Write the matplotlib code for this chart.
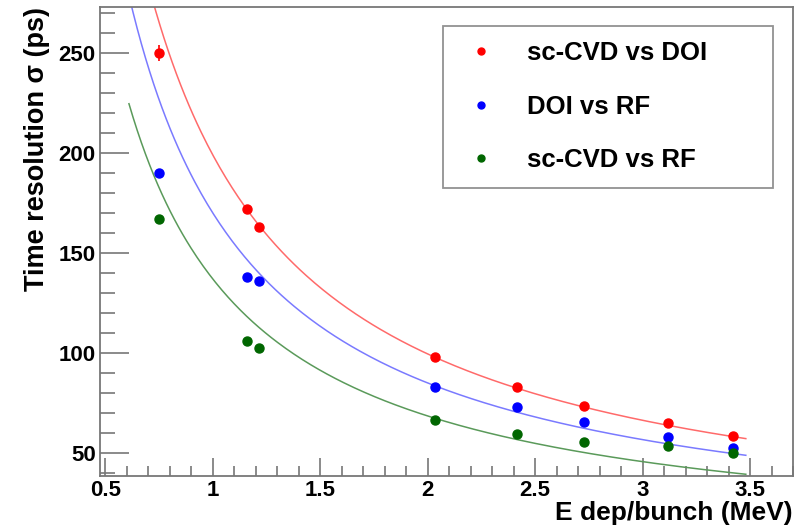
import numpy as np
import matplotlib
matplotlib.use("Agg")
import matplotlib.pyplot as plt
from matplotlib.ticker import MultipleLocator, FuncFormatter
from matplotlib.lines import Line2D

# measured points (E dep per bunch in MeV, time resolution in ps)
e_dep = [0.749, 1.157, 1.213, 2.036, 2.416, 2.726, 3.116, 3.42]
sig_cvd_doi = [250, 171.8, 163.2, 97.8, 82.8, 73.7, 65.2, 58.5]
sig_doi_rf = [189.8, 138.2, 136.2, 82.8, 72.8, 65.5, 58.2, 52.3]
sig_cvd_rf = [166.8, 105.8, 102.3, 66.5, 59.3, 55.7, 53.7, 50.0]
err_cvd_doi = [4, 1.5, 1.5, 1, 1, 1, 1, 1]
err_doi_rf = [2, 1, 1, 1, 1, 1, 1, 1]
err_cvd_rf = [1.5, 1, 1, 1, 1, 1, 1, 1]

# fit a/E parameters
fit_a = {"sc-CVD vs DOI": 199.0, "DOI vs RF": 170.0, "sc-CVD vs RF": 137.0}
fit_range = (0.61, 3.48)

labels = ["sc-CVD vs DOI", "DOI vs RF", "sc-CVD vs RF"]
series = [sig_cvd_doi, sig_doi_rf, sig_cvd_rf]
errs = [err_cvd_doi, err_doi_rf, err_cvd_rf]
mk_colors = ["#ff0000", "#0000ff", "#006600"]
ln_colors = ["#ff6a6a", "#7a7aff", "#5a9a5a"]

plt.rcParams["font.family"] = "Liberation Sans"
plt.rcParams["font.weight"] = "bold"

fig = plt.figure(figsize=(8.06, 5.31), dpi=100)
ax = fig.add_axes([0.124, 0.1036, 0.86, 0.8834])

xf = np.linspace(fit_range[0], fit_range[1], 300)
for lab, y, e, mc, lc in zip(labels, series, errs, mk_colors, ln_colors):
    ax.plot(xf, fit_a[lab] / xf, color=lc, lw=1.1, zorder=2)
    ax.errorbar(e_dep, y, yerr=e, fmt="o", color=mc, ms=6.5, elinewidth=1.2,
                capsize=0, zorder=3)

ax.set_xlim(0.475, 3.70)
ax.set_ylim(38.5, 273)

ax.xaxis.set_major_locator(MultipleLocator(0.5))
ax.xaxis.set_minor_locator(MultipleLocator(0.1))
ax.yaxis.set_major_locator(MultipleLocator(50))
ax.yaxis.set_minor_locator(MultipleLocator(10))
ax.xaxis.set_major_formatter(FuncFormatter(lambda v, p: "%g" % v))
ax.tick_params(axis="both", which="both", direction="in", colors="#777777",
               labelcolor="black", labelsize=16)
ax.tick_params(axis="y", which="major", length=21, width=1.2, pad=3)
ax.tick_params(axis="y", which="minor", length=11, width=1.2)
ax.tick_params(axis="x", which="major", length=13, width=1.2, pad=3)
ax.tick_params(axis="x", which="minor", length=7, width=1.2)
for sp in ax.spines.values():
    sp.set_color("#777777")
    sp.set_linewidth(1.3)
for t in ax.get_xticklabels() + ax.get_yticklabels():
    t.set_fontweight("bold")

ax.set_xlabel("E dep/bunch (MeV)", loc="right", fontsize=19, fontweight="bold", labelpad=0)
ax.set_ylabel("Time resolution \u03c3 (ps)", loc="top", fontsize=19.5, fontweight="bold", labelpad=6)

handles = [Line2D([], [], ls="none", marker="o", color=c, ms=5) for c in mk_colors]
leg = ax.legend(handles, labels, loc="upper left", mode="expand",
                bbox_to_anchor=(0.495, 0.614, 0.476, 0.3455),
                fontsize=18.5, frameon=True, fancybox=False, handletextpad=0.9,
                handlelength=1.75, labelspacing=1.15, borderpad=0.6, borderaxespad=0)
leg.get_frame().set_edgecolor("#777777")
leg.get_frame().set_linewidth(1.3)
for t in leg.get_texts():
    t.set_fontweight("bold")

plt.savefig("out.png", dpi=100)
